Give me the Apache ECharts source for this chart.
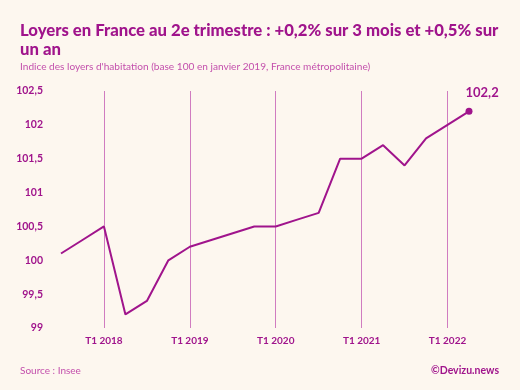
<!DOCTYPE html>
<html><head><meta charset="utf-8">
<script src="https://cdn.jsdelivr.net/npm/echarts@6/dist/echarts.min.js"></script>
<style>html,body{margin:0;padding:0;background:#fdf7ef;}#c{width:520px;height:390px;}</style>
</head><body><div id="c"></div>
<script>
const categories = ["T3 2017","T4 2017","T1 2018","T2 2018","T3 2018","T4 2018","T1 2019","T2 2019","T3 2019","T4 2019","T1 2020","T2 2020","T3 2020","T4 2020","T1 2021","T2 2021","T3 2021","T4 2021","T1 2022","T2 2022"];
const values = [100.1,100.3,100.5,99.2,99.4,100.0,100.2,100.3,100.4,100.5,100.5,100.6,100.7,101.5,101.5,101.7,101.4,101.8,102.0,102.2];
const yTicks = [99,99.5,100,100.5,101,101.5,102,102.5];
const titleText = "Loyers en France au 2e trimestre : +0,2% sur 3 mois et +0,5% sur\nun an";
const subtitleText = "Indice des loyers d'habitation (base 100 en janvier 2019, France métropolitaine)";
const sourceText = "Source : Insee";
const creditText = "©Devizu.news";

const purple = '#a0148c';
const fmt = v => String(v).replace('.', ',');
const chart = echarts.init(document.getElementById('c'));
const lastIdx = values.length - 1;
chart.setOption({
  backgroundColor: '#fdf7ef',
  animation: false,
  title: [
    {text: titleText, left: 15, top: 16, textStyle: {fontFamily: 'Lato', fontWeight: 900, fontSize: 16.7, color: purple, lineHeight: 19}},
    {text: subtitleText, left: 15, top: 57, textStyle: {fontFamily: 'Lato', fontWeight: 'normal', fontSize: 10.1, color: '#c34fac'}},
    {text: sourceText, left: 15, top: 361, textStyle: {fontFamily: 'Lato', fontWeight: 'normal', fontSize: 10, color: '#c34fac'}},
    {text: creditText, right: 16, top: 360, textStyle: {fontFamily: 'Lato', fontWeight: 'bold', fontSize: 10.5, color: purple}}
  ],
  grid: {left: 61, right: 51, top: 91, bottom: 62},
  xAxis: {
    type: 'category', data: categories, boundaryGap: false,
    axisLine: {show: false}, axisTick: {show: false},
    axisLabel: {interval: (i, v) => v.startsWith('T1'), fontFamily: 'Lato', fontWeight: 'bold', fontSize: 10, color: purple, margin: 8},
    splitLine: {show: true, interval: (i, v) => v.startsWith('T1'), lineStyle: {color: '#d07cc0', width: 1}}
  },
  yAxis: {
    type: 'value', min: yTicks[0], max: yTicks[yTicks.length-1], interval: 0.5,
    axisLine: {show: false}, axisTick: {show: false}, splitLine: {show: false},
    axisLabel: {formatter: v => fmt(v), fontFamily: 'Lato', fontWeight: 'bold', fontSize: 10.5, color: purple, margin: 18}
  },
  series: [{
    type: 'line', data: values.map((v, i) => i === lastIdx ? {value: v, symbol: 'circle', symbolSize: 7, label: {show: true, position: [0, -22], formatter: p => fmt(p.value), fontFamily: 'Lato', fontWeight: 'bold', fontSize: 13, color: purple}} : v),
    symbol: 'none', showSymbol: true,
    lineStyle: {color: purple, width: 2}, itemStyle: {color: purple}
  }]
});
</script></body></html>
